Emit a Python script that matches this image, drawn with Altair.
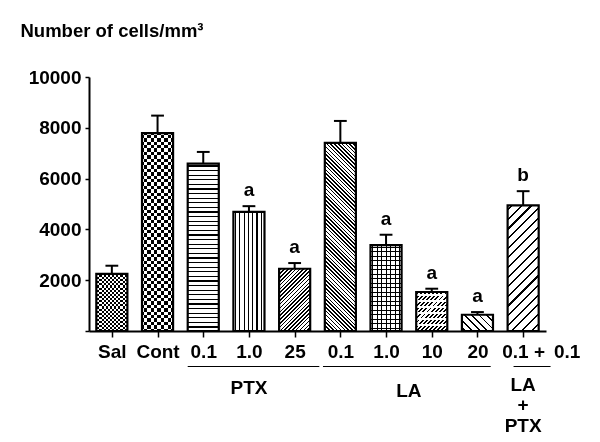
import json
import math
import altair as alt
import pandas as pd

# ---------------- data ----------------
categories = ["Sal", "Cont", "0.1", "1.0", "25", "0.1", "1.0", "10", "20", "0.1 +"]
means = [2250, 7790, 6590, 4690, 2450, 7405, 3380, 1535, 640, 4945]
errors = [320, 690, 460, 225, 225, 865, 410, 130, 105, 560]
letters = ["", "", "", "a", "a", "", "a", "a", "a", "b"]
groups = ["PTX", "LA", "LA\n+\nPTX"]
group_start = [2, 5, 9]
group_end = [4, 8, 9]
y_ticks = [0, 2000, 4000, 6000, 8000, 10000]
extra_label = "0.1"
y_title = "Number of cells/mm³"

# ---------------- layout / style ----------------
W, H = 457, 254
YMAX = 10000
N = len(categories)
STEP = W / N
HALF = 0.34
CAP = 0.14
BAR_W = 2 * HALF * STEP
FONT = "Liberation Sans"
FS = 19
TFS = 18.5

# group underline extensions (in band units) and label baselines (px, plot coords)
group_ext_left = [0.0, -0.04, 0.13]
group_ext_right = [0.2, -0.05, 0.26]
group_label_y = [317, 319.5, 313.5]

# pattern per bar: (kind, period_px, thickness_px, fg, bg, blend)
patterns = [
    [("v", 4.2, 2.1, "black", "white", None), ("h", 4.2, 2.1, "white", "black", "difference")],
    [("v", 6.8, 3.4, "black", "white", None), ("h", 6.8, 3.4, "white", "black", "difference")],
    [("h", 4.6, 1.2, "black", "white", None)],
    [("v", 4.3, 1.2, "black", "white", None)],
    [("fwd", 2.7, 1.1, "black", "white", None)],
    [("back", 2.7, 1.1, "black", "white", None)],
    [("v", 4.5, 1.1, "black", "white", None), ("h", 4.5, 1.1, "black", "transparent", None)],
    [("fwd", 2.9, 1.3, "black", "white", None), ("h", 6.0, 1.3, "white", "transparent", None)],
    [("back", 5.2, 1.4, "black", "white", None)],
    [("fwd", 6.8, 1.5, "black", "white", None)],
]


def stripe_stops(L, p, t, fg, bg):
    stops = [{"offset": 0, "color": bg}]
    x = (p - t) / 2.0
    while x < L:
        a = round(min(x / L, 1.0), 5)
        b = round(min((x + t) / L, 1.0), 5)
        stops += [{"offset": a, "color": bg}, {"offset": a, "color": fg},
                  {"offset": b, "color": fg}, {"offset": b, "color": bg}]
        x += p
    stops.append({"offset": 1, "color": bg})
    return stops


def gradient(kind, w, h, p, t, fg, bg):
    h = max(h, 1.0)
    if kind == "h":
        x1, y1, x2, y2, L = 0, 0, 0, 1, h
    elif kind == "v":
        x1, y1, x2, y2, L = 0, 0, 1, 0, w
    else:
        c = (w + h) / (w * w + h * h)
        L = (w + h) / math.sqrt(2)
        if kind == "fwd":
            x1, y1, x2, y2 = 0, 0, c * w, c * h
        else:
            x1, y1, x2, y2 = 0, 1, c * w, 1 - c * h
    return {"gradient": "linear", "x1": x1, "y1": y1, "x2": x2, "y2": y2,
            "stops": stripe_stops(L, p, t, fg, bg)}


df = pd.DataFrame({
    "idx": list(range(N)),
    "cat": categories,
    "mean": means,
    "err": errors,
    "letter": letters,
})

xscale = alt.Scale(domain=[-0.5, N - 0.5], nice=False, zero=False)
yscale = alt.Scale(domain=[0, YMAX], nice=False)

xaxis = alt.Axis(
    values=list(range(N)),
    labelExpr=json.dumps(categories) + "[datum.value]",
    title=None, grid=False, tickSize=6, tickWidth=1.5, domainWidth=2,
    domainColor="black", tickColor="black", labelColor="black",
    labelFont=FONT, labelFontSize=FS, labelFontWeight="bold",
    labelAngle=0, labelPadding=20, labelBaseline="alphabetic",
    labelOverlap=False, labelFlush=False,
)
yaxis = alt.Axis(
    values=y_ticks, format="d",
    labelExpr="datum.value == 0 ? '' : datum.label",
    title=y_title, grid=False, tickSize=4, tickWidth=1.5, domainWidth=2,
    domainColor="black", tickColor="black", labelColor="black",
    labelFont=FONT, labelFontSize=FS, labelFontWeight="bold", labelPadding=4,
    titleAngle=0, titleX=-69, titleY=-41, titleAlign="left",
    titleBaseline="alphabetic", titleFont=FONT, titleFontSize=TFS,
    titleFontWeight="bold", titleColor="black",
)

base = alt.Chart(df).transform_calculate(
    x0=f"datum.idx - {HALF}",
    x1=f"datum.idx + {HALF}",
    c0=f"datum.idx - {CAP}",
    c1=f"datum.idx + {CAP}",
    top="datum.mean + datum.err",
)

layers = []
for i in range(N):
    h_px = means[i] / YMAX * H
    for kind, p, t, fg, bg, blend in patterns[i]:
        kw = {}
        if blend:
            kw["blend"] = blend
        layers.append(
            base.transform_filter(f"datum.idx == {i}")
            .mark_bar(fill=gradient(kind, BAR_W, h_px, p, t, fg, bg), strokeWidth=0, **kw)
            .encode(
                x=alt.X("x0:Q", scale=xscale, axis=xaxis),
                x2="x1:Q",
                y=alt.Y("mean:Q", scale=yscale, axis=yaxis),
                y2=alt.datum(0),
            )
        )

err_rule = base.mark_rule(color="black", strokeWidth=2).encode(
    x=alt.X("idx:Q", scale=xscale, axis=xaxis),
    y=alt.Y("mean:Q", scale=yscale, axis=yaxis),
    y2="top:Q",
)
err_cap = base.mark_rule(color="black", strokeWidth=2).encode(
    x=alt.X("c0:Q", scale=xscale, axis=xaxis),
    x2="c1:Q",
    y=alt.Y("top:Q", scale=yscale, axis=yaxis),
)
outline = base.mark_bar(fill="transparent", stroke="black", strokeWidth=2.2).encode(
    x=alt.X("x0:Q", scale=xscale, axis=xaxis),
    x2="x1:Q",
    y=alt.Y("mean:Q", scale=yscale, axis=yaxis),
    y2=alt.datum(0),
)
letters_text = base.mark_text(
    font=FONT, fontSize=FS, fontWeight="bold", color="black",
    baseline="alphabetic", dy=-10,
).encode(
    x=alt.X("idx:Q", scale=xscale, axis=xaxis),
    y=alt.Y("top:Q", scale=yscale, axis=yaxis),
    text="letter:N",
)

extra_df = pd.DataFrame({"idx": [N - 1], "t": [extra_label]})
extra_text = alt.Chart(extra_df).mark_text(
    font=FONT, fontSize=FS, fontWeight="bold", color="black",
    baseline="alphabetic", dx=44,
).encode(
    x=alt.X("idx:Q", scale=xscale, axis=xaxis),
    y=alt.value(280.5),
    text="t:N",
)

gdf = pd.DataFrame({
    "g": groups, "s": group_start, "e": group_end,
    "el": group_ext_left, "er": group_ext_right, "gy": group_label_y,
})
gbase = alt.Chart(gdf).transform_calculate(
    gx0=f"datum.s - {HALF} + datum.el",
    gx1=f"datum.e + {HALF} + datum.er",
    gm="(datum.s + datum.e) / 2",
)
group_lines = gbase.mark_rule(color="black", strokeWidth=1).encode(
    x=alt.X("gx0:Q", scale=xscale, axis=xaxis),
    x2="gx1:Q",
    y=alt.value(289.5),
)
group_text = gbase.mark_text(
    font=FONT, fontSize=FS, fontWeight="bold", color="black",
    baseline="alphabetic", lineBreak="\n", lineHeight=20.5,
).encode(
    x=alt.X("gm:Q", scale=xscale, axis=xaxis),
    y=alt.Y("gy:Q", scale=None),
    text="g:N",
)

chart = alt.layer(
    *layers, err_rule, err_cap, outline, letters_text, extra_text,
    group_lines, group_text,
).properties(
    width=W, height=H,
    autosize=alt.AutoSizeParams(type="none"),
    padding={"left": 81, "top": 69, "right": 46, "bottom": 103},
).configure(background="white").configure_view(stroke=None)

chart.save("out.html", embed_options={"renderer": "svg", "actions": False})
